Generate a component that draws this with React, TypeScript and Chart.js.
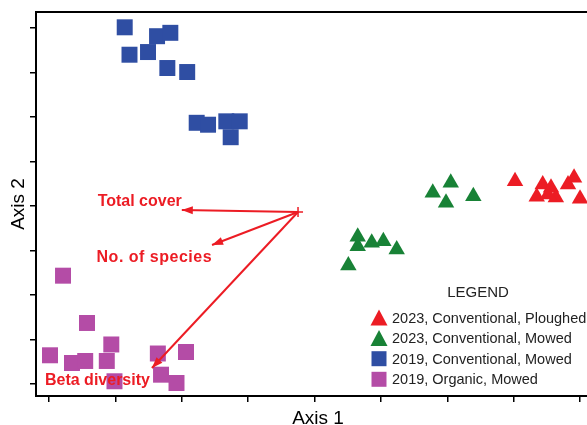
import React, { useEffect, useRef } from 'react';
import { Chart, registerables } from 'chart.js';

Chart.register(...registerables);

// ---- Data (ordination scores) ----
const ploughed2023: [number, number][] = [
  [7.018, 0.557], [7.435, 0.483], [7.56, 0.409], [7.345, 0.207], [7.633, 0.191],
  [7.907, 0.634], [7.816, 0.483], [7.997, 0.162], [7.515, 0.258],
];
const mowed2023: [number, number][] = [
  [5.779, 0.297], [6.05, 0.521], [5.979, 0.072], [6.39, 0.22],
  [4.649, -0.692], [4.649, -0.903], [4.86, -0.827], [5.035, -0.791], [5.236, -0.978], [4.508, -1.337],
];
const conventional2019: [number, number][] = [
  [1.14, 4.016], [1.212, 3.4], [1.491, 3.46], [1.627, 3.816], [1.827, 3.892], [1.782, 3.101],
  [2.081, 3.011], [2.224, 1.87], [2.395, 1.827], [2.67, 1.903], [2.872, 1.903], [2.736, 1.546],
];
const organic2019: [number, number][] = [
  [0.211, -1.566], [0.572, -2.629], [0.938, -3.112], [0.015, -3.355], [0.346, -3.528], [0.545, -3.483],
  [0.87, -3.483], [1.639, -3.315], [2.063, -3.281], [1.687, -3.791], [1.92, -3.978], [0.986, -3.939],
];

const seriesLabels = [
  '2023, Conventional, Ploughed',
  '2023, Conventional, Mowed',
  '2019, Conventional, Mowed',
  '2019, Organic, Mowed',
];

// biplot vectors
const vectorOrigin: [number, number] = [3.75, -0.135];
const vectorLabels = ['Total cover', 'No. of species', 'Beta diversity'];
const vectorTipX = [2.0, 2.455, 1.55];
const vectorTipY = [-0.09, -0.876, -3.64];

// axes
const xTicks = [0, 1, 2, 3, 4, 5, 6, 7, 8];
const yTicks = [-4, -3, -2, -1, 0, 1, 2, 3, 4];
const xMin = -0.196, xMax = 8.102;
const yMin = -4.27, yMax = 4.36;
const xTitle = 'Axis 1';
const yTitle = 'Axis 2';
const legendTitle = 'LEGEND';

// ---- Styles ----
const RED = '#ec1c24';
const GREEN = '#188236';
const BLUE = '#2f4ea3';
const MAGENTA = '#b44ca6';
const seriesColors = [RED, GREEN, BLUE, MAGENTA];
const seriesStyles = ['triangle', 'triangle', 'rect', 'rect'];
const SANS = '"Liberation Sans", Arial, Helvetica, sans-serif';

const toPts = (a: [number, number][]) => a.map(([x, y]) => ({ x, y }));

const overlayPlugin = {
  id: 'overlay',
  afterDatasetsDraw(chart: any) {
    const { ctx, chartArea } = chart;
    const xs = chart.scales.x;
    const ys = chart.scales.y;
    ctx.save();

    // top frame line
    ctx.strokeStyle = '#000';
    ctx.lineWidth = 2;
    ctx.beginPath();
    ctx.moveTo(chartArea.left - 1, chartArea.top);
    ctx.lineTo(chartArea.right, chartArea.top);
    ctx.stroke();

    // arrowheads + labels
    const ox = xs.getPixelForValue(vectorOrigin[0]);
    const oy = ys.getPixelForValue(vectorOrigin[1]);
    const labelDy = [-4, 17, 17];
    const labelDx = [0, 0, -2];
    const labelSpacing = ['0px', '0.5px', '0px'];
    vectorLabels.forEach((lab, i) => {
      const tx = xs.getPixelForValue(vectorTipX[i]);
      const ty = ys.getPixelForValue(vectorTipY[i]);
      const ang = Math.atan2(ty - oy, tx - ox);
      const L = 11, W = 4;
      const c = Math.cos(ang), s = Math.sin(ang);
      ctx.fillStyle = RED;
      ctx.beginPath();
      ctx.moveTo(tx, ty);
      ctx.lineTo(tx - L * c + W * s, ty - L * s - W * c);
      ctx.lineTo(tx - L * c - W * s, ty - L * s + W * c);
      ctx.closePath();
      ctx.fill();

      ctx.font = `bold 16px ${SANS}`;
      (ctx as any).letterSpacing = labelSpacing[i];
      ctx.textAlign = 'right';
      ctx.textBaseline = 'alphabetic';
      ctx.fillText(lab, tx + labelDx[i], ty + labelDy[i]);
      (ctx as any).letterSpacing = '0px';
    });

    // origin cross
    ctx.strokeStyle = RED;
    ctx.lineWidth = 1.5;
    ctx.beginPath();
    ctx.moveTo(ox - 5, oy); ctx.lineTo(ox + 5, oy);
    ctx.moveTo(ox, oy - 5); ctx.lineTo(ox, oy + 5);
    ctx.stroke();

    // legend
    ctx.fillStyle = '#222';
    ctx.font = `15px ${SANS}`;
    ctx.textAlign = 'center';
    ctx.textBaseline = 'middle';
    ctx.fillText(legendTitle, 478, 293);
    ctx.font = `14.5px ${SANS}`;
    ctx.textAlign = 'left';
    seriesLabels.forEach((lab, i) => {
      const cy = 317.5 + i * 20.6;
      const cx = 379;
      ctx.fillStyle = seriesColors[i];
      ctx.beginPath();
      if (seriesStyles[i] === 'triangle') {
        ctx.moveTo(cx, cy - 8);
        ctx.lineTo(cx + 8.5, cy + 8);
        ctx.lineTo(cx - 8.5, cy + 8);
        ctx.closePath();
      } else {
        ctx.rect(cx - 7.5, cy - 7.5, 15, 15);
      }
      ctx.fill();
      ctx.fillStyle = '#222';
      ctx.fillText(lab, 392, cy + 1);
    });

    // axis titles
    ctx.fillStyle = '#000';
    ctx.font = `19px ${SANS}`;
    ctx.textAlign = 'center';
    ctx.textBaseline = 'alphabetic';
    ctx.fillText(xTitle, 318, 424);
    ctx.save();
    ctx.translate(24, 204);
    ctx.rotate(-Math.PI / 2);
    ctx.fillText(yTitle, 0, 0);
    ctx.restore();

    ctx.restore();
  },
};

export default function App() {
  const ref = useRef<HTMLCanvasElement | null>(null);

  useEffect(() => {
    if (!ref.current) return;
    const scatterSets = [ploughed2023, mowed2023, conventional2019, organic2019].map((arr, i) => ({
      type: 'scatter' as const,
      label: seriesLabels[i],
      data: toPts(arr),
      pointStyle: seriesStyles[i],
      pointRadius: seriesStyles[i] === 'triangle' ? 9.5 : 11.3,
      pointHoverRadius: seriesStyles[i] === 'triangle' ? 9.5 : 11.3,
      pointBackgroundColor: seriesColors[i],
      pointBorderWidth: 0,
      borderWidth: 0,
      backgroundColor: seriesColors[i],
      showLine: false,
      order: 2,
      clip: false,
    }));
    const vectorSets = vectorLabels.map((lab, i) => ({
      type: 'line' as const,
      label: lab,
      data: [
        { x: vectorOrigin[0], y: vectorOrigin[1] },
        { x: vectorTipX[i], y: vectorTipY[i] },
      ],
      borderColor: RED,
      borderWidth: 2,
      pointRadius: 0,
      fill: false,
      tension: 0,
      order: 1,
    }));

    const chart = new Chart(ref.current, {
      type: 'scatter',
      data: { datasets: [...scatterSets, ...vectorSets] as any },
      options: {
        animation: false,
        responsive: true,
        maintainAspectRatio: false,
        layout: { autoPadding: false, padding: { top: 12, left: 0, right: 0, bottom: 0 } },
        plugins: { legend: { display: false }, tooltip: { enabled: false } },
        scales: {
          x: {
            type: 'linear',
            min: xMin,
            max: xMax,
            afterBuildTicks: (s: any) => { s.ticks = xTicks.map((v) => ({ value: v })); },
            afterFit: (s: any) => { s.height = 29; },
            ticks: { display: false },
            grid: { drawOnChartArea: false, drawTicks: true, tickLength: 6, color: '#000', lineWidth: 1.5 },
            border: { display: true, color: '#000', width: 2 },
          },
          y: {
            type: 'linear',
            min: yMin,
            max: yMax,
            afterBuildTicks: (s: any) => { s.ticks = yTicks.map((v) => ({ value: v })); },
            afterFit: (s: any) => { s.width = 36; },
            ticks: { display: false },
            grid: { drawOnChartArea: false, drawTicks: true, tickLength: 6, color: '#000', lineWidth: 1.5 },
            border: { display: true, color: '#000', width: 2 },
          },
        },
      } as any,
      plugins: [overlayPlugin],
    });
    return () => chart.destroy();
  }, []);

  return (
    <div style={{ position: 'absolute', left: 0, top: 0, width: 587, height: 425, background: '#fff' }}>
      <canvas ref={ref} />
    </div>
  );
}
